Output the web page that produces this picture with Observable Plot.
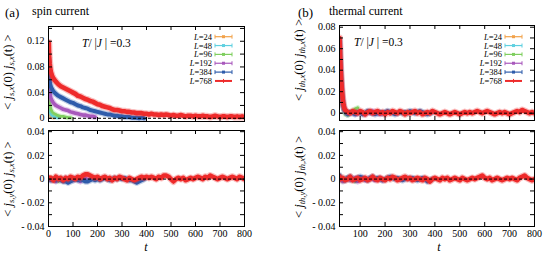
<!DOCTYPE html>
<html><head><meta charset="utf-8">
<script src="https://cdn.jsdelivr.net/npm/d3@7"></script>
<script src="https://cdn.jsdelivr.net/npm/@observablehq/plot@0.6"></script>
<style>
body{margin:0;background:#fff}
#c{position:relative;width:544px;height:259px;overflow:hidden;font-family:"Liberation Serif","Times New Roman",serif;background:#fff}
#c > svg{position:absolute}
#c text{font-family:"Liberation Serif","Times New Roman",serif}
</style></head><body><div id="c"></div>
<script>
// ---------- legend / series ----------
const sizes = ["24","48","96","192","384","768"];
const colors = ["#f2a24a","#5fd0e0","#7fcf5f","#a858bc","#2f5cab","#ee2b2b"];

// ---------- (a) top: <j_sx(0) j_sx(t)> ----------
const tSpinX = [1,2,3,5,7,10,15,20,30,40,50,60,70,80,90,100,110,120,130,140,150,160,170,180,190,200,
 210,220,230,240,250,260,270,280,290,300,310,320,330,340,350,360,370,380,390,400,
 410,420,430,440,450,460,470,480,490,500,510,520,530,540,550,560,570,580,590,600,
 610,620,630,640,650,660,670,680,690,700,710,720,730,740,750,760,770,780,790,800];
const spinX24 = [0.040,0.020,0.012,0.007,0.004,0.003,0.002,0.001];
const spinX48 = [0.050,0.030,0.020,0.013,0.009,0.006,0.004,0.003,0.002,0.001];
const spinX96 = [0.060,0.042,0.032,0.023,0.018,0.014,0.010,0.008,0.006,0.004,0.003,0.003,0.002,0.001,0.001];
const spinX192 = [0.080,0.062,0.052,0.042,0.036,0.031,0.027,0.024,0.020,0.018,0.016,0.014,0.013,0.012,0.010,0.009,
 0.008,0.007,0.006,0.005,0.005,0.004,0.003,0.003,0.002];
const spinX384 = [0.092,0.078,0.068,0.058,0.053,0.049,0.045,0.042,0.038,0.035,0.033,0.031,0.029,0.027,0.025,0.024,
 0.022,0.020,0.019,0.017,0.016,0.015,0.013,0.012,0.011,0.010,
 0.009,0.008,0.007,0.006,0.006,0.005,0.004,0.004,0.003,0.003,
 0.002,0.002,0.002,0.001,0.001,0.001,0.000,0.001,0.000];
const spinX768 = [0.118,0.105,0.095,0.085,0.078,0.072,0.066,0.062,0.057,0.053,0.050,0.048,0.046,0.044,0.042,0.040,
 0.038,0.035,0.034,0.032,0.030,0.029,0.027,0.026,0.024,0.022,
 0.021,0.019,0.018,0.017,0.016,0.014,0.013,0.013,0.012,0.011,
 0.011,0.010,0.010,0.009,0.009,0.008,0.008,0.008,0.007,0.007,
 0.006,0.007,0.006,0.006,0.005,0.006,0.005,0.006,0.005,0.004,
 0.005,0.004,0.004,0.005,0.004,0.003,0.004,0.004,0.003,0.004,
 0.003,0.003,0.004,0.003,0.003,0.002,0.003,0.004,0.003,0.002,
 0.003,0.003,0.002,0.003,0.003,0.002,0.003,0.002,0.003,0.002];

// ---------- (a) bottom: <j_sy(0) j_sx(t)> ----------
const tSpinY = [0,10,20,30,40,50,60,70,80,90,100,110,120,130,140,150,160,170,180,190,200,
 210,220,230,240,250,260,270,280,290,300,310,320,330,340,350,360,370,380,390,400,
 410,420,430,440,450,460,470,480,490,500,510,520,530,540,550,560,570,580,590,600,
 610,620,630,640,650,660,670,680,690,700,710,720,730,740,750,760,770,780,790,800];
const spinY24 = [0.000,0.001,-0.001];
const spinY48 = [0.001,0.000,-0.001,0.001,0.000];
const spinY96 = [0.000,0.001,-0.001,0.000,-0.002,0.001,0.000,-0.001,0.000,0.001];
const spinY192 = [0.001,-0.001,0.000,-0.002,0.001,0.000,-0.001,0.001,-0.002,0.000,-0.001,0.001,0.000,-0.002,0.000,0.001,-0.001,0.000,0.001,0.000];
const spinY384 = [0.000,-0.001,0.000,-0.001,0.000,-0.001,-0.002,-0.002,-0.003,-0.002,
 -0.001,0.000,-0.001,0.000,-0.001,-0.002,-0.002,-0.001,0.000,-0.001,
 0.000,-0.001,0.000,0.001,0.000,-0.001,0.000,0.001,0.000,0.001,
 0.000,0.001,0.000,-0.001,-0.001,-0.002,-0.003,-0.002,-0.001,0.000];
const spinY768 = [0.001,0.001,-0.001,0.002,0.000,0.001,-0.001,0.001,0.000,0.002,
 0.001,0.000,0.002,0.001,0.003,0.004,0.004,0.003,0.002,0.001,
 0.002,0.000,0.001,0.002,0.000,0.001,-0.001,0.001,0.000,0.002,
 0.001,0.000,-0.001,0.001,0.000,-0.001,0.000,0.001,0.002,0.001,
 0.002,0.001,0.002,0.001,0.000,0.002,0.001,0.003,0.003,0.002,
 0.000,-0.002,0.000,0.001,0.000,0.001,-0.001,0.000,0.001,0.000,
 0.001,0.002,0.001,0.000,0.002,0.001,0.003,0.002,0.001,0.000,
 0.001,0.002,0.001,0.000,0.001,0.002,0.001,0.000,0.002,0.001,0.000];

// ---------- (b) top: <j_thx(0) j_thx(t)> ----------
const tThX = [17,18,19,20,22,24,26,28,30,33,36,40,45,50,60,70,80,90,100,110,120,130,140,150,160,170,180,190,200,
 210,220,230,240,250,260,270,280,290,300,310,320,330,340,350,360,370,380,390,400,
 410,420,430,440,450,460,470,480,490,500,510,520,530,540,550,560,570,580,590,600,
 610,620,630,640,650,660,670,680,690,700,710,720,730,740,750,760,770,780,790,800];
const thX24 = [0.060,0.054,0.047,0.040,0.031,0.023,0.017];
const thX48 = [0.062,0.056,0.049,0.042,0.033,0.025,0.018,0.012,0.008,0.004,0.002,0.001,0.000,0.001];
const thX96 = [0.064,0.058,0.051,0.044,0.034,0.026,0.019,0.013,0.009,0.005,0.002,-0.001,0.000,-0.002,0.001,0.002,0.004,0.005];
const thX192 = [0.066,0.060,0.053,0.046,0.036,0.028,0.021,0.015,0.010,0.006,0.003,0.002,0.000,0.001,
 0.000,0.001,-0.001,0.000,0.001,0.000,-0.001,0.001,0.000,0.002,0.001,0.000,-0.001,0.000];
const thX384 = [0.068,0.062,0.055,0.048,0.038,0.029,0.022,0.016,0.011,0.007,0.004,0.002,0.000,-0.001,
 0.001,0.000,-0.001,0.001,0.000,
 -0.001,0.000,0.002,0.001,0.000,-0.001,0.000,0.001,0.000,0.001,
 0.002,0.001,0.000,-0.001,0.000,0.001,0.000,0.001,0.000,0.002,
 0.001,0.000,0.001,0.002,0.001,0.000,-0.001,0.000,0.001];
const thX768 = [0.070,0.064,0.058,0.050,0.040,0.031,0.024,0.018,0.013,0.008,0.005,0.003,0.002,0.001,
 0.000,0.002,0.001,0.000,0.002,
 0.001,-0.001,0.001,0.002,0.000,0.001,0.002,0.000,0.001,-0.001,
 0.001,0.000,0.002,0.001,0.000,0.002,0.001,-0.001,0.001,0.000,
 0.001,0.002,0.000,0.001,-0.001,0.000,0.001,0.000,0.002,0.001,
 0.000,-0.001,0.000,0.001,0.000,-0.001,0.000,0.001,0.000,-0.001,
 0.000,0.001,0.000,0.001,0.000,0.001,0.002,0.001,0.000,0.001,
 0.002,0.001,0.000,-0.001,0.000,0.001,0.000,0.001,0.000,-0.001,
 0.000,0.001,0.002,0.001,0.003,0.002,0.001,0.000,0.001,0.000];

// ---------- (b) bottom: <j_thy(0) j_thx(t)> ----------
const tThY = [17,20,30,40,50,60,70,80,90,100,110,120,130,140,150,160,170,180,190,200,
 210,220,230,240,250,260,270,280,290,300,310,320,330,340,350,360,370,380,390,400,
 410,420,430,440,450,460,470,480,490,500,510,520,530,540,550,560,570,580,590,600,
 610,620,630,640,650,660,670,680,690,700,710,720,730,740,750,760,770,780,790,800];
const thY24 = [0.003,0.001];
const thY48 = [0.002,0.000,-0.001,0.001];
const thY96 = [0.001,-0.001,-0.002,0.000,0.001,-0.001,0.000,-0.002,0.000];
const thY192 = [0.002,0.000,-0.002,0.000,0.001,-0.001,0.000,0.001,-0.002,0.000,0.001,-0.001,0.000,0.001,0.000,-0.001,0.000,0.001,-0.001];
const thY384 = [0.003,0.001,0.000,-0.001,0.001,0.002,0.000,-0.001,0.001,0.002,
 0.001,0.000,-0.001,0.001,0.002,0.000,0.001,0.000,-0.001,0.000,
 0.001,0.002,0.001,0.000,0.001,0.000,-0.001,0.000,0.001,0.000,
 0.001,0.000,-0.001,0.000,0.001,0.000,-0.002,-0.001,0.000];
const thY768 = [0.002,0.000,0.001,-0.001,0.000,0.002,-0.001,0.000,0.001,-0.001,
 0.000,0.001,-0.001,0.000,0.002,0.000,-0.001,0.001,0.000,-0.001,
 0.001,0.000,0.002,0.001,-0.001,0.000,0.001,0.002,0.000,0.001,
 -0.001,0.000,0.001,0.000,-0.001,0.001,0.000,-0.002,0.000,0.001,
 0.000,-0.001,0.001,0.000,0.001,-0.001,0.000,0.001,0.000,-0.001,
 0.001,0.000,-0.001,0.000,0.001,0.000,0.001,0.002,0.003,0.001,
 0.000,0.001,-0.001,0.000,0.001,0.000,-0.001,0.000,0.001,0.000,
 0.001,0.000,-0.001,0.001,0.002,0.003,0.001,0.000,-0.001,0.000];

// ---------- ticks ----------
const ySpinTopTicks = [0,0.02,0.04,0.06,0.08,0.10,0.12,0.14];
const ySpinTopLabelVals = [0,0.04,0.08,0.12];
const ySpinTopLabels = ["0","0.04","0.08","0.12"];
const yThTopTicks = [0,0.01,0.02,0.03,0.04,0.05,0.06,0.07,0.08];
const yThTopLabelVals = [0,0.02,0.04,0.06,0.08];
const yThTopLabels = ["0","0.02","0.04","0.06","0.08"];
const yLowTicks = [-0.04,-0.03,-0.02,-0.01,0,0.01,0.02,0.03,0.04];
const yLowLabelVals = [-0.04,-0.02,0,0.02,0.04];
const yLowLabels = ["- 0.04","- 0.02","0","0.02","0.04"];
const xTicksA = [0,100,200,300,400,500,600,700,800];
const xLabelsA = ["0","100","200","300","400","500","600","700","800"];
const xTicksB = [100,200,300,400,500,600,700,800];
const xLabelsB = ["100","200","300","400","500","600","700","800"];

// ---------- drawing ----------
const FONT = '"Liberation Serif", "Times New Roman", serif';
const root = document.getElementById("c");
const lineW = [2.6,2.6,2.8,3.6,4,4.6];

function panel(o){
  const fw = o.width - o.ml - o.mr, fh = o.height - o.mt - o.mb;
  const marks = [];
  o.series.forEach((v,i)=>{
    const rows = v.map((val,j)=>({t:o.t[j], v:val}));
    marks.push(Plot.line(rows,{x:"t",y:"v",stroke:colors[i],strokeWidth:lineW[i]+2.4,strokeOpacity:0.3,clip:true}));
    marks.push(Plot.line(rows,{x:"t",y:"v",stroke:colors[i],strokeWidth:lineW[i],clip:true}));
  });
  marks.push(Plot.ruleY([0],{stroke:"#000",strokeWidth:1,strokeDasharray:"3,2"}));
  marks.push(Plot.frame({stroke:"#000",strokeWidth:1}));
  marks.push(Plot.ruleY(o.yTicks,{y:d=>d,stroke:"#000",insetRight:fw-4}));
  marks.push(Plot.ruleY(o.yTicks,{y:d=>d,stroke:"#000",insetLeft:fw-4}));
  marks.push(Plot.ruleX(o.xTicks,{x:d=>d,stroke:"#000",insetBottom:fh-4}));
  marks.push(Plot.ruleX(o.xTicks,{x:d=>d,stroke:"#000",insetTop:fh-4}));
  marks.push(Plot.text(o.yLabelVals,{y:d=>d,text:o.yLabels,frameAnchor:"left",textAnchor:"end",dx:-4,fill:"#000",fontFamily:FONT,fontSize:10}));
  if (o.xLabels) marks.push(Plot.text(o.xTicks,{x:d=>d,text:o.xLabels,frameAnchor:"bottom",lineAnchor:"top",dy:3,fill:"#000",fontFamily:FONT,fontSize:10}));
  const svg = Plot.plot({
    width:o.width, height:o.height,
    marginLeft:o.ml, marginRight:o.mr, marginTop:o.mt, marginBottom:o.mb,
    x:{domain:o.xDomain, axis:null},
    y:{domain:o.yDomain, axis:null},
    style:{background:"transparent", overflow:"visible", fontFamily:FONT, fontSize:"10px", color:"#000"},
    marks
  });
  svg.style.left = o.left+"px"; svg.style.top = o.top+"px";
  root.appendChild(svg);
}

panel({left:0,top:0,width:272,height:130,ml:48,mr:28,mt:26,mb:9,
  xDomain:[0,800],yDomain:[-0.005,0.143],t:tSpinX,
  series:[spinX24,spinX48,spinX96,spinX192,spinX384,spinX768],
  yTicks:ySpinTopTicks,yLabelVals:ySpinTopLabelVals,yLabels:ySpinTopLabels,xTicks:xTicksA});
panel({left:272,top:0,width:272,height:130,ml:67,mr:10,mt:25,mb:10,
  xDomain:[17,800],yDomain:[-0.0068,0.0816],t:tThX,
  series:[thX24,thX48,thX96,thX192,thX384,thX768],
  yTicks:yThTopTicks,yLabelVals:yThTopLabelVals,yLabels:yThTopLabels,xTicks:xTicksB});
panel({left:0,top:124,width:272,height:135,ml:48,mr:28,mt:6,mb:33,
  xDomain:[0,800],yDomain:[-0.04,0.041],t:tSpinY,
  series:[spinY24,spinY48,spinY96,spinY192,spinY384,spinY768],
  yTicks:yLowTicks,yLabelVals:yLowLabelVals,yLabels:yLowLabels,xTicks:xTicksA,xLabels:xLabelsA});
panel({left:272,top:124,width:272,height:135,ml:67,mr:10,mt:6,mb:33,
  xDomain:[17,800],yDomain:[-0.04,0.041],t:tThY,
  series:[thY24,thY48,thY96,thY192,thY384,thY768],
  yTicks:yLowTicks,yLabelVals:yLowLabelVals,yLabels:yLowLabels,xTicks:xTicksB,xLabels:xLabelsB});

// ---------- overlay text & legends ----------
const ov = d3.select(root).append("svg").attr("width",544).attr("height",259)
  .style("left","0px").style("top","0px").style("pointer-events","none")
  .attr("font-family",FONT).attr("fill","#000");

ov.append("text").attr("x",5).attr("y",17).attr("font-size",13).text("(a)");
ov.append("text").attr("x",32).attr("y",15).attr("font-size",12).text("spin current");
ov.append("text").attr("x",298).attr("y",17).attr("font-size",13).text("(b)");
ov.append("text").attr("x",329).attr("y",15).attr("font-size",12).text("thermal current");

function tj(x,y){
  const t = ov.append("text").attr("x",x).attr("y",y).attr("font-size",11.5);
  t.append("tspan").attr("font-style","italic").text("T");
  t.append("tspan").text("/ |");
  t.append("tspan").attr("font-style","italic").text("J");
  t.append("tspan").text(" | =0.3");
}
tj(82,47); tj(354,46);

function corr(x,y,s1,s2){
  const t = ov.append("text").attr("transform",`translate(${x},${y}) rotate(-90)`)
    .attr("text-anchor","middle").attr("font-size",12.5);
  t.append("tspan").text("< ");
  t.append("tspan").attr("font-style","italic").text("j");
  t.append("tspan").attr("font-style","italic").attr("font-size",8.5).attr("dy",2).text(s1);
  t.append("tspan").attr("dy",-2).text("(0) ");
  t.append("tspan").attr("font-style","italic").text("j");
  t.append("tspan").attr("font-style","italic").attr("font-size",8.5).attr("dy",2).text(s2);
  t.append("tspan").attr("dy",-2).text("(t) >");
}
corr(12,72,"s,x","s,x");
corr(12,179,"s,y","s,x");
corr(303,60,"th,x","th,x");
corr(303,177,"th,y","th,x");

ov.append("text").attr("x",146).attr("y",251).attr("font-size",12).attr("font-style","italic").attr("text-anchor","middle").text("t");
ov.append("text").attr("x",439).attr("y",251).attr("font-size",12).attr("font-style","italic").attr("text-anchor","middle").text("t");

function legend(xr,x1,x2,y0){
  sizes.forEach((s,i)=>{
    const y = y0 + i*8.85;
    const t = ov.append("text").attr("x",xr).attr("y",y+3).attr("font-size",8.5).attr("text-anchor","end");
    t.append("tspan").attr("font-style","italic").text("L");
    t.append("tspan").text("="+s);
    const g = ov.append("g").attr("stroke",colors[i]);
    g.append("line").attr("x1",x1).attr("x2",x2).attr("y1",y).attr("y2",y).attr("stroke-width",i===5?2:1.2);
    if(i<5){
      g.append("line").attr("x1",x1).attr("x2",x1).attr("y1",y-2).attr("y2",y+2);
      g.append("line").attr("x1",x2).attr("x2",x2).attr("y1",y-2).attr("y2",y+2);
      g.append("rect").attr("x",(x1+x2)/2-1.5).attr("y",y-1.5).attr("width",3).attr("height",3).attr("fill",colors[i]).attr("stroke","none");
    } else {
      g.append("line").attr("x1",(x1+x2)/2).attr("x2",(x1+x2)/2).attr("y1",y-2).attr("y2",y+2);
    }
  });
}
legend(212,215,232,36.7);
legend(502,505,522,36.7);
</script></body></html>
